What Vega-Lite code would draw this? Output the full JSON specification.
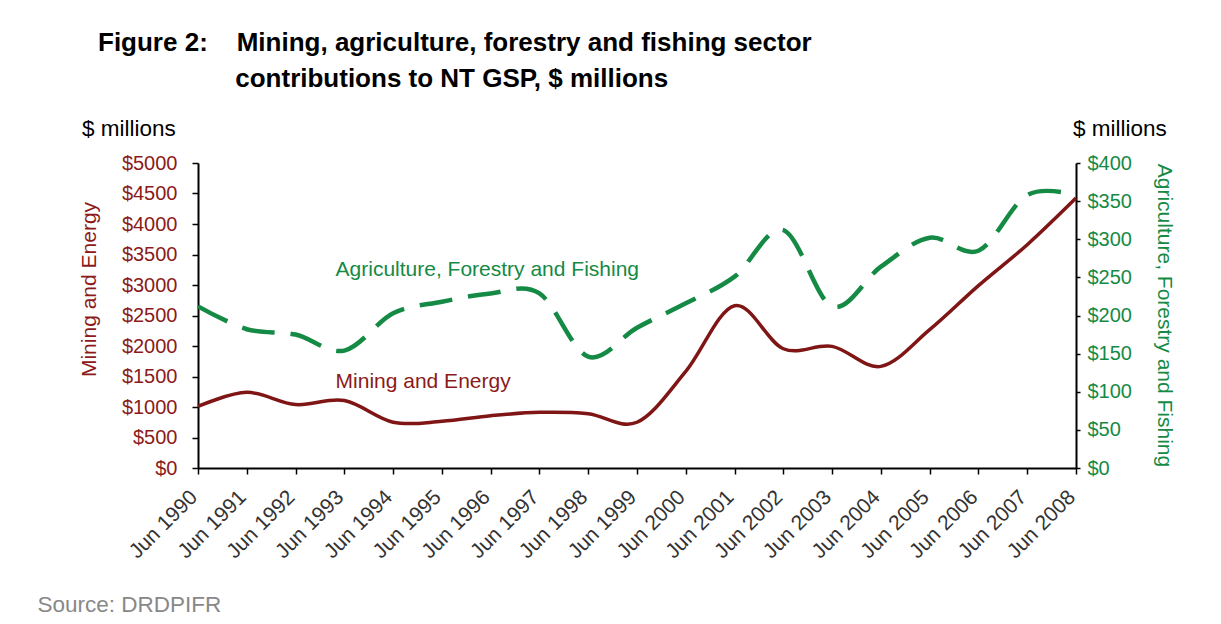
{
  "$schema": "https://vega.github.io/schema/vega-lite/v6.json",
  "width": 878,
  "height": 305,
  "autosize": {"type": "none"},
  "padding": {"left": 198, "top": 163, "right": 145, "bottom": 156},
  "background": "white",
  "config": {
    "view": {"stroke": null},
    "font": "Liberation Sans",
    "axis": {"grid": false, "domainColor": "#000000", "domainWidth": 2, "tickColor": "#000000", "tickWidth": 1.5, "labelFont": "Liberation Sans", "titleFont": "Liberation Sans", "titleFontWeight": "normal", "labelOverlap": false}
  },
  "title": {
    "text": ["Figure 2:\u00a0\u00a0\u00a0\u00a0Mining, agriculture, forestry and fishing sector", "\u200b\u00a0\u00a0\u00a0\u00a0\u00a0\u00a0\u00a0\u00a0\u00a0\u00a0\u00a0\u00a0\u00a0\u00a0\u00a0\u00a0\u00a0\u00a0\u00a0contributions to NT GSP, $ millions"],
    "anchor": "start",
    "frame": "group",
    "dx": -100,
    "font": "Liberation Sans",
    "fontSize": 26,
    "fontWeight": "bold",
    "color": "#000000",
    "lineHeight": 36,
    "offset": 26
  },
  "data": {
    "values": [
      {"year": 1990, "mining": 1010, "agri": 212},
      {"year": 1991, "mining": 1240, "agri": 182},
      {"year": 1992, "mining": 1040, "agri": 175},
      {"year": 1993, "mining": 1105, "agri": 154},
      {"year": 1994, "mining": 750, "agri": 203},
      {"year": 1995, "mining": 765, "agri": 218},
      {"year": 1996, "mining": 857, "agri": 229},
      {"year": 1997, "mining": 912, "agri": 229},
      {"year": 1998, "mining": 890, "agri": 146},
      {"year": 1999, "mining": 750, "agri": 184},
      {"year": 2000, "mining": 1584, "agri": 216},
      {"year": 2001, "mining": 2661, "agri": 251},
      {"year": 2002, "mining": 1955, "agri": 312},
      {"year": 2003, "mining": 1994, "agri": 212},
      {"year": 2004, "mining": 1666, "agri": 264},
      {"year": 2005, "mining": 2267, "agri": 302},
      {"year": 2006, "mining": 2989, "agri": 285},
      {"year": 2007, "mining": 3661, "agri": 358},
      {"year": 2008, "mining": 4426, "agri": 358}
    ]
  },
  "layer": [
    {
      "layer": [
        {
          "mark": {"type": "line", "interpolate": "cardinal", "color": "#7F1515", "strokeWidth": 3.5},
          "encoding": {
            "x": {
              "field": "year",
              "type": "quantitative",
              "scale": {"domain": [1990, 2008], "nice": false, "zero": false},
              "axis": {
                "values": [1990, 1991, 1992, 1993, 1994, 1995, 1996, 1997, 1998, 1999, 2000, 2001, 2002, 2003, 2004, 2005, 2006, 2007, 2008],
                "tickCount": 19,
                "labelExpr": "'Jun ' + datum.value",
                "labelAngle": -45,
                "labelAlign": "right",
                "labelBaseline": "alphabetic",
                "labelPadding": 24,
                "labelFontSize": 21,
                "labelColor": "#333333",
                "labelOverlap": false,
                "tickSize": 6,
                "title": "Source: DRDPIFR",
                "titleColor": "#888888",
                "titleFontSize": 22.5,
                "titleAnchor": "start",
                "titleAlign": "left",
                "titleBaseline": "alphabetic",
                "titleX": -161,
                "titleY": 143
              }
            },
            "y": {
              "field": "mining",
              "type": "quantitative",
              "scale": {"domain": [0, 5000], "nice": false},
              "axis": {
                "orient": "left",
                "values": [0, 500, 1000, 1500, 2000, 2500, 3000, 3500, 4000, 4500, 5000],
                "tickCount": 11,
                "labelExpr": "'$' + datum.value",
                "labelColor": "#8B1A1A",
                "labelFontSize": 20,
                "labelPadding": 15,
                "labelOverlap": false,
                "tickSize": 6,
                "title": "Mining and Energy",
                "titleColor": "#8B1A1A",
                "titleFontSize": 21,
                "titleAngle": -90,
                "titleAlign": "center",
                "titleBaseline": "alphabetic",
                "titleX": -103,
                "titleY": 126
              }
            }
          }
        },
        {
          "data": {"values": [{"label": "Mining and Energy"}]},
          "mark": {"type": "text", "align": "left", "baseline": "alphabetic", "fontSize": 21, "color": "#8B1A1A"},
          "encoding": {
            "x": {"datum": 1992.82},
            "y": {"datum": 1316},
            "text": {"field": "label"}
          }
        },
        {
          "data": {"values": [{"label": "$ millions"}]},
          "mark": {"type": "text", "align": "left", "baseline": "alphabetic", "fontSize": 22.5, "color": "#000000", "dx": -116, "dy": -27},
          "encoding": {
            "x": {"datum": 1990},
            "y": {"datum": 5000},
            "text": {"field": "label"}
          }
        }
      ]
    },
    {
      "layer": [
        {
          "mark": {"type": "line", "interpolate": "cardinal", "color": "#158A45", "strokeWidth": 4.5, "strokeDash": [33, 16]},
          "encoding": {
            "x": {"field": "year", "type": "quantitative"},
            "y": {
              "field": "agri",
              "type": "quantitative",
              "scale": {"domain": [0, 400], "nice": false},
              "axis": {
                "orient": "right",
                "values": [0, 50, 100, 150, 200, 250, 300, 350, 400],
                "tickCount": 9,
                "labelExpr": "'$' + datum.value",
                "labelColor": "#158A45",
                "labelFontSize": 20,
                "labelPadding": 7,
                "labelOverlap": false,
                "tickSize": 4,
                "title": "Agriculture, Forestry and Fishing",
                "titleColor": "#158A45",
                "titleFontSize": 21,
                "titleAngle": 90,
                "titleAlign": "center",
                "titleBaseline": "alphabetic",
                "titleX": 81,
                "titleY": 152
              }
            }
          }
        },
        {
          "data": {"values": [{"label": "Agriculture, Forestry and Fishing"}]},
          "mark": {"type": "text", "align": "left", "baseline": "alphabetic", "fontSize": 21, "color": "#158A45"},
          "encoding": {
            "x": {"datum": 1992.82},
            "y": {"datum": 251.3},
            "text": {"field": "label"}
          }
        },
        {
          "data": {"values": [{"label": "$ millions"}]},
          "mark": {"type": "text", "align": "left", "baseline": "alphabetic", "fontSize": 22.5, "color": "#000000", "dx": -3, "dy": -27},
          "encoding": {
            "x": {"datum": 2008},
            "y": {"datum": 400},
            "text": {"field": "label"}
          }
        }
      ]
    }
  ],
  "resolve": {"scale": {"y": "independent"}}
}
